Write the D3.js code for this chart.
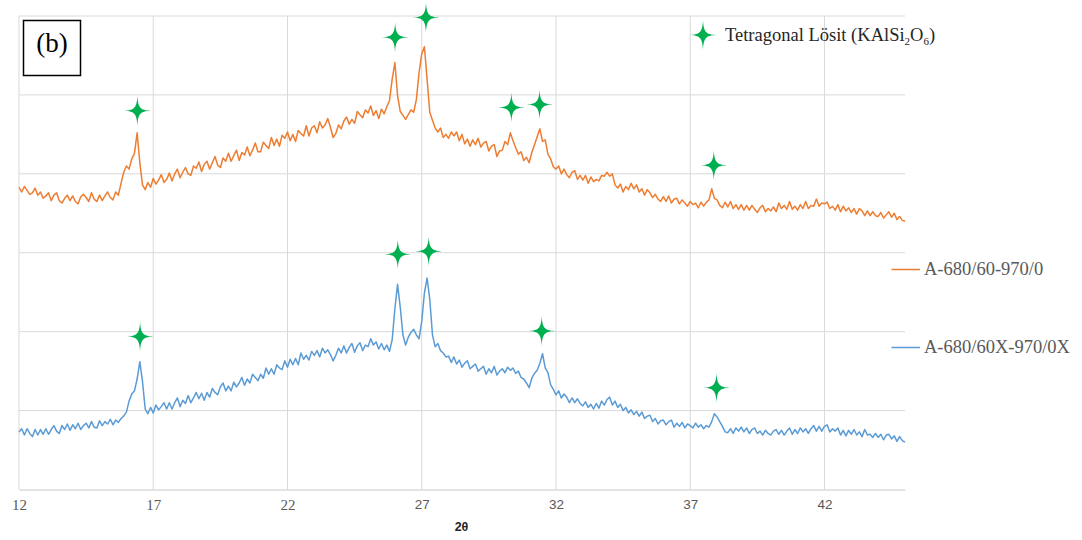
<!DOCTYPE html>
<html>
<head>
<meta charset="utf-8">
<script src="https://cdn.jsdelivr.net/npm/d3@7"></script>
<style>
  html, body { margin: 0; padding: 0; background: #fff; }
  svg { display: block; }
</style>
</head>
<body>
<svg id="chart" width="1082" height="540"></svg>
<script>
// XRD patterns, 2θ from 12° to 45° in 0.1° steps
const angleStart = 12;
const angleStep = 0.1;

// A-680/60-970/0 intensity (a.u.)
const seriesA = [
  383,377,384,379,374,376,382,373,377,369,
  372,376,366,373,376,366,363,369,373,366,
  372,365,362,371,374,370,365,376,368,365,
  373,366,372,377,370,367,377,373,388,402,
  410,406,419,426,452,414,386,380,389,383,
  394,387,392,399,389,393,401,391,400,406,
  395,402,408,400,398,410,407,415,403,412,
  416,406,414,422,411,408,420,416,426,416,
  423,430,417,427,424,434,423,430,439,428,
  428,440,436,432,446,436,444,435,449,445,
  453,442,450,441,455,451,448,461,448,458,
  461,452,466,458,462,470,459,446,451,462,
  457,467,472,463,469,464,479,475,471,481,
  477,486,474,480,470,482,476,485,493,520,
  541,499,479,474,469,475,481,478,494,528,
  552,561,520,478,468,458,453,458,446,450,
  445,453,448,453,442,450,438,444,435,443,
  437,445,434,439,441,429,435,437,422,429,
  430,441,437,452,442,433,425,428,417,421,
  414,427,437,447,457,441,443,425,419,409,
  406,410,400,406,399,395,402,404,393,398,
  392,398,388,396,390,393,391,398,397,402,
  397,400,386,382,387,377,384,380,388,381,
  386,377,381,373,380,376,370,374,368,365,
  371,365,372,363,368,369,362,367,363,359,
  365,361,363,357,364,359,364,367,381,369,
  367,360,357,364,358,365,356,361,355,361,
  354,360,354,360,355,351,357,360,352,356,
  353,358,352,363,356,360,355,365,355,359,
  354,361,356,365,356,360,359,368,359,363,
  362,364,356,359,354,361,352,359,353,357,
  351,356,349,356,353,347,353,347,352,347,
  346,351,344,348,352,345,350,342,346,341,
  340
];

// A-680/60X-970/0X intensity (a.u.)
const seriesB = [
  73,77,69,77,71,67,76,69,76,70,
  77,70,76,81,74,71,81,76,83,75,
  82,77,84,76,81,84,78,86,79,78,
  87,81,86,83,89,82,88,85,90,93,
  98,112,121,125,140,162,137,102,96,104,
  97,107,101,105,110,102,110,102,110,116,
  105,113,109,119,110,116,123,115,122,113,
  123,117,128,123,120,130,135,125,131,125,
  136,130,135,142,132,140,135,146,142,138,
  146,141,154,146,153,146,158,154,152,163,
  155,165,158,166,158,173,165,170,164,175,
  170,176,168,179,173,177,171,163,170,179,
  173,182,173,180,185,174,182,186,176,183,
  181,191,183,187,178,185,177,183,175,190,
  229,260,231,196,183,193,199,203,196,191,
  213,249,268,241,196,181,185,176,173,168,
  169,161,168,159,164,155,160,163,153,156,
  159,150,153,156,146,153,148,156,145,150,
  153,148,155,151,154,147,150,142,140,135,
  129,141,147,151,160,172,154,148,133,127,
  120,125,116,121,117,110,116,110,115,109,
  106,111,104,108,102,109,103,112,107,114,
  117,107,112,104,108,100,104,97,101,95,
  99,93,98,90,93,94,86,90,83,87,
  88,82,86,88,79,84,80,85,78,83,
  81,78,84,79,82,77,81,79,86,96,
  92,86,80,73,72,77,71,78,74,79,
  73,78,71,76,78,71,74,69,75,71,
  69,74,76,70,75,69,74,78,70,76,
  71,78,73,77,71,77,81,74,80,74,
  80,82,73,77,74,78,69,75,68,75,
  70,76,69,73,67,76,69,70,66,71,
  66,70,63,69,70,64,68,61,67,62,
  60
];

// Tetragonal leucite reflections marked above each pattern
const markA2Theta = [16.41, 26.01, 27.16, 30.34, 31.39, 37.88];
const markAIntensity = [480, 573, 598, 484, 488, 411];
const markB2Theta = [16.51, 26.11, 27.26, 31.47, 37.98];
const markBIntensity = [194, 298, 302, 201, 129];

const xTicks = [12, 17, 22, 27, 32, 37, 42];
const yGrid = [0, 100, 200, 300, 400, 500, 600];
const seriesNames = ["A-680/60-970/0", "A-680/60X-970/0X"];
const seriesColors = ["#ED7D31", "#5B9BD5"];

const svg = d3.select("#chart");
const x = d3.scaleLinear().domain([12, 45]).range([19, 905]);
const y = d3.scaleLinear().domain([0, 600]).range([489.5, 16]);

const angles = seriesA.map((_, i) => +(angleStart + i * angleStep).toFixed(2));

// grid
const grid = svg.append("g");
grid.selectAll("line.h").data(yGrid.slice(1)).join("line")
  .attr("x1", x(12)).attr("x2", x(45))
  .attr("y1", d => y(d)).attr("y2", d => y(d))
  .attr("stroke", "#d9d9d9").attr("stroke-width", 1);
grid.selectAll("line.v").data(xTicks).join("line")
  .attr("x1", d => x(d)).attr("x2", d => x(d))
  .attr("y1", y(600)).attr("y2", y(0))
  .attr("stroke", "#d9d9d9").attr("stroke-width", 1);

// x axis
const xAxis = svg.append("g").attr("transform", `translate(0,${y(0)})`)
  .call(d3.axisBottom(x).tickValues(xTicks).tickSize(0).tickPadding(10));
xAxis.select(".domain").attr("stroke", "#c8c8c8").attr("stroke-width", 1.2);
xAxis.selectAll("text")
  .attr("fill", "#595959")
  .style("font-family", d => d < 25 ? "'Liberation Serif', serif" : "'Liberation Sans', Arial, sans-serif")
  .style("font-size", d => d < 25 ? "15px" : "13.5px");

svg.append("text")
  .attr("x", 461.5).attr("y", 531)
  .attr("text-anchor", "middle")
  .style("font-family", "'Liberation Sans', Arial, sans-serif")
  .style("font-size", "12.5px").style("font-weight", "bold")
  .attr("fill", "#262626")
  .text("2θ");

// patterns
const line = d3.line().x((d, i) => x(angles[i])).y(d => y(d));
[seriesA, seriesB].forEach((s, k) => {
  svg.append("path").datum(s)
    .attr("fill", "none")
    .attr("stroke", seriesColors[k])
    .attr("stroke-width", 1.5)
    .attr("stroke-linejoin", "round")
    .attr("d", line);
});

// four-point star marker
const starPath = "M0,-15 C0.6,-3 3,-0.6 13,0 C3,0.6 0.6,3 0,15 C-0.6,3 -3,0.6 -13,0 C-3,-0.6 -0.6,-3 0,-15Z";
const marks = markA2Theta.map((t, i) => [t, markAIntensity[i]])
  .concat(markB2Theta.map((t, i) => [t, markBIntensity[i]]));
svg.append("g").selectAll("path").data(marks).join("path")
  .attr("d", starPath)
  .attr("transform", d => `translate(${x(d[0])},${y(d[1])})`)
  .attr("fill", "#00B050");

// phase legend
svg.append("path").attr("d", starPath)
  .attr("transform", "translate(703,35)").attr("fill", "#00B050");
const phase = svg.append("text")
  .attr("x", 725).attr("y", 41)
  .style("font-family", "'Liberation Serif', 'Times New Roman', serif")
  .style("font-size", "18.5px")
  .attr("fill", "#262626");
phase.append("tspan").text("Tetragonal Lösit (KAlSi");
phase.append("tspan").attr("dy", 4).style("font-size", "11px").text("2");
phase.append("tspan").attr("dy", -4).text("O");
phase.append("tspan").attr("dy", 4).style("font-size", "11px").text("6");
phase.append("tspan").attr("dy", -4).text(")");

// series legend
const legendY = [269.5, 347.5];
seriesNames.forEach((name, k) => {
  svg.append("line")
    .attr("x1", 891.5).attr("x2", 920)
    .attr("y1", legendY[k]).attr("y2", legendY[k])
    .attr("stroke", seriesColors[k]).attr("stroke-width", 1.5);
  svg.append("text")
    .attr("x", 924).attr("y", legendY[k] + 5.5)
    .style("font-family", "'Liberation Serif', 'Times New Roman', serif")
    .style("font-size", "18.5px")
    .attr("fill", "#595959")
    .text(name);
});

// panel label
svg.append("rect")
  .attr("x", 23.5).attr("y", 20.5).attr("width", 57).attr("height", 55)
  .attr("fill", "#fff").attr("stroke", "#000").attr("stroke-width", 1.5);
svg.append("text")
  .attr("x", 52).attr("y", 52)
  .attr("text-anchor", "middle")
  .style("font-family", "'Liberation Serif', 'Times New Roman', serif")
  .style("font-size", "27px")
  .attr("fill", "#000")
  .text("(b)");
</script>
</body>
</html>
